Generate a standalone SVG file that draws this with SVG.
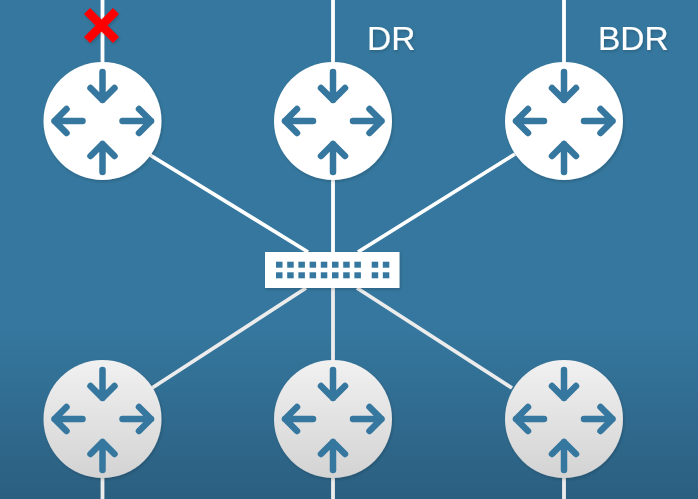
<svg xmlns="http://www.w3.org/2000/svg" xmlns:xlink="http://www.w3.org/1999/xlink" width="698" height="499" viewBox="0 0 698 499">
<style>
.link{stroke:#fff;stroke-width:3.8;fill:none}
.linkb{stroke:#ececec;stroke-width:3.8;fill:none}
.arr{stroke:#35779e;stroke-width:6.500;fill:none;stroke-linecap:round;stroke-linejoin:round}
.lbl{font-family:"Liberation Sans",Arial,sans-serif;font-size:33.500px;fill:#fff;stroke:#fff;stroke-width:0.15}
.port{fill:#35779e}
</style>
<defs>
<linearGradient id="bg" x1="0" y1="0" x2="0" y2="1">
<stop offset="0" stop-color="#35779e"/><stop offset="0.66" stop-color="#35779e"/><stop offset="1" stop-color="#2b5f80"/>
</linearGradient>
<linearGradient id="disc" x1="0" y1="0" x2="0" y2="1">
<stop offset="0" stop-color="#f1f1f1"/><stop offset="1" stop-color="#d3d3d3"/>
</linearGradient>
<filter id="sh" x="-20%" y="-20%" width="140%" height="140%"><feDropShadow dx="1" dy="1.500" stdDeviation="1.500" flood-color="#000" flood-opacity="0.18"/></filter>
<g id="arrows">
<path class="arr" d="M0-49V-21M-12-33L0-21L12-33"/>
<path class="arr" d="M0 51V23M-12 35L0 23L12 35"/>
<path class="arr" d="M-20 0H-48M-36-12L-48 0L-36 12"/>
<path class="arr" d="M20 0H48.500M36.500-12L48.500 0L36.500 12"/>
</g>
</defs>
<rect width="698" height="499" fill="url(#bg)"/>
<g id="connectors">
<path class="link" d="M102.500 0V64M333 0V252M564 0V64"/>
<path class="link" d="M150 155L308 252M515 154L358 252"/>
<path class="linkb" d="M333 288V362M306 288L152 388M357 288L512 388"/>
<path class="linkb" d="M102.500 476V499M333 476V499M564 476V499"/>
</g>
<g id="r1"><circle cx="102.500" cy="121" r="59" fill="#fff" filter="url(#sh)"/><use xlink:href="#arrows" x="102.500" y="121"/></g>
<g id="r2"><circle cx="333" cy="121" r="59" fill="#fff" filter="url(#sh)"/><use xlink:href="#arrows" x="333" y="121"/></g>
<g id="r3"><circle cx="564" cy="121" r="59" fill="#fff" filter="url(#sh)"/><use xlink:href="#arrows" x="564" y="121"/></g>
<g id="r4"><circle cx="102.500" cy="419" r="59" fill="url(#disc)" filter="url(#sh)"/><use xlink:href="#arrows" x="102.500" y="419"/></g>
<g id="r5"><circle cx="333" cy="419" r="59" fill="url(#disc)" filter="url(#sh)"/><use xlink:href="#arrows" x="333" y="419"/></g>
<g id="r6"><circle cx="564" cy="419" r="59" fill="url(#disc)" filter="url(#sh)"/><use xlink:href="#arrows" x="564" y="419"/></g>
<g id="switch">
<rect x="265" y="252" width="134.500" height="36" fill="#fff" filter="url(#sh)"/>
<g class="port">
<rect x="276" y="261.700" width="6.500" height="6"/><rect x="287.200" y="261.700" width="6.500" height="6"/><rect x="298.400" y="261.700" width="6.500" height="6"/><rect x="309.600" y="261.700" width="6.500" height="6"/><rect x="320.800" y="261.700" width="6.500" height="6"/><rect x="332" y="261.700" width="6.500" height="6"/><rect x="343.200" y="261.700" width="6.500" height="6"/><rect x="354.400" y="261.700" width="6.500" height="6"/><rect x="371.700" y="261.700" width="6.500" height="6"/><rect x="382.800" y="261.700" width="6.500" height="6"/>
<rect x="276" y="272.300" width="6.500" height="6"/><rect x="287.200" y="272.300" width="6.500" height="6"/><rect x="298.400" y="272.300" width="6.500" height="6"/><rect x="309.600" y="272.300" width="6.500" height="6"/><rect x="320.800" y="272.300" width="6.500" height="6"/><rect x="332" y="272.300" width="6.500" height="6"/><rect x="343.200" y="272.300" width="6.500" height="6"/><rect x="354.400" y="272.300" width="6.500" height="6"/><rect x="371.700" y="272.300" width="6.500" height="6"/><rect x="382.800" y="272.300" width="6.500" height="6"/>
</g>
</g>
<g id="cross"><path d="M87 11L116 40M116 11L87 40" stroke="#fe0000" stroke-width="8.500" fill="none" filter="url(#sh)"/></g>
<text class="lbl" x="367" y="49.500" filter="url(#sh)">DR</text>
<text class="lbl" x="598" y="49.500" filter="url(#sh)">BDR</text>
</svg>
